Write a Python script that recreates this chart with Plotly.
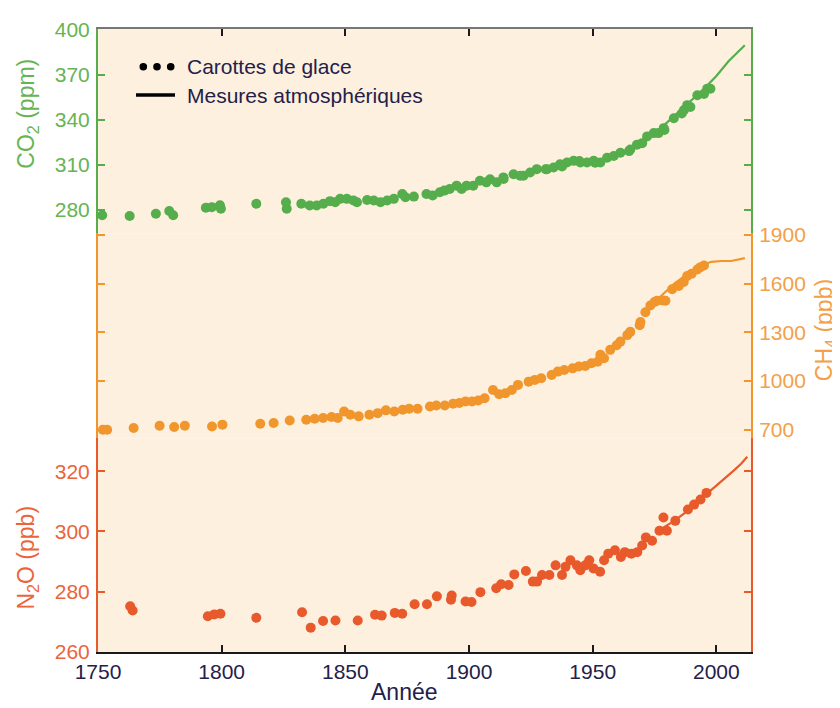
import plotly.graph_objects as go

# ---------------- data ----------------
x_ticks = [1750, 1800, 1850, 1900, 1950, 2000]
co2_ticks = [280, 310, 340, 370, 400]
ch4_ticks = [700, 1000, 1300, 1600, 1900]
n2o_ticks = [260, 280, 300, 320]

co2_ice_year = [1751.7, 1762.8, 1773.4, 1778.8, 1780.4, 1793.6, 1796.0, 1799.3, 1799.7,
                1814.0, 1826.0, 1826.3, 1832.2, 1835.6, 1838.4, 1841.1, 1843.8, 1845.9,
                1847.9, 1850.6, 1853.3, 1854.7, 1858.8, 1861.5, 1864.2, 1866.9, 1869.6,
                1873.0, 1874.3, 1877.7, 1882.8, 1885.3, 1888.2, 1892.2, 1895.0, 1899.0,
                1901.7, 1904.4, 1908.5, 1911.2, 1913.9, 1918.0, 1922.0, 1924.7, 1927.4,
                1931.5, 1934.2, 1936.8, 1939.6, 1942.3, 1945.0, 1947.7, 1950.4, 1953.1,
                1955.8, 1958.5, 1961.2, 1965.2, 1967.9, 1972.0, 1974.7, 1978.7, 1982.8,
                1986.9, 1988.2, 1992.3, 1996.3,
                1890.0, 1897.0, 1907.0, 1914.0, 1920.7, 1931.0, 1937.6, 1944.6, 1951.0,
                1964.7, 1970.0, 1976.6, 1979.0, 1986.0, 1989.5, 1995.0, 1997.6]
co2_ice = [276.3, 275.8, 277.3, 279.1, 276.3, 281.3, 281.7, 282.9, 280.6,
           283.9, 285.0, 280.6, 283.9, 282.8, 282.8, 283.9, 285.7, 285.0,
           287.2, 287.2, 286.1, 285.0, 286.5, 286.1, 285.0, 286.1, 287.2,
           290.5, 288.3, 288.7, 290.5, 289.4, 291.6, 293.8, 296.0, 296.0,
           296.0, 299.3, 300.3, 298.2, 301.5, 303.6, 302.6, 304.8, 307.0,
           307.0, 308.1, 310.2, 311.4, 312.5, 311.4, 311.4, 312.5, 311.4,
           314.6, 315.7, 317.9, 320.1, 323.3, 328.8, 331.0, 334.3, 340.9,
           346.3, 349.6, 356.2, 360.6,
           292.7, 293.8, 298.2, 300.4, 302.6, 306.9, 308.7, 312.4, 311.3,
           319.0, 324.3, 331.0, 333.0, 344.0, 348.4, 357.0, 360.5]
co2_atm_year = [1958, 1962, 1966, 1970, 1975, 1980, 1985, 1990, 1995, 2000, 2005, 2011.5]
co2_atm = [315.5, 318.0, 321.0, 325.5, 331.0, 338.0, 345.5, 353.5, 360.5, 369.0, 379.0, 389.5]

ch4_ice_year = [1752.0, 1753.7, 1764.4, 1774.9, 1780.8, 1785.1, 1796.1, 1800.3, 1815.6,
                1821.0, 1827.5, 1834.2, 1837.6, 1841.0, 1844.4, 1846.9, 1849.5, 1852.0,
                1855.4, 1859.7, 1863.1, 1866.4, 1869.8, 1873.2, 1875.8, 1879.2, 1884.2,
                1886.8, 1890.2, 1893.6, 1896.1, 1898.6, 1901.2, 1903.7, 1906.3, 1909.7,
                1912.2, 1914.7, 1917.3, 1919.8, 1924.1, 1926.6, 1929.2, 1933.4, 1935.9,
                1938.5, 1941.9, 1944.4, 1947.0, 1949.5, 1952.0, 1953.1, 1957.1, 1961.2,
                1965.2, 1969.3, 1971.3, 1973.3, 1976.0, 1979.4, 1982.1, 1984.8, 1988.2,
                1992.3, 1995.0,
                1954.6, 1959.7, 1964.0, 1969.0, 1975.0, 1978.3, 1986.8, 1990.0, 1993.6]
ch4_ice = [700, 700, 710, 724, 716, 724, 720, 731, 737,
           741, 757, 761, 767, 772, 778, 772, 812, 792,
           782, 792, 802, 819, 812, 823, 829, 829, 843,
           849, 849, 860, 864, 874, 874, 880, 894, 945,
           919, 925, 945, 976, 996, 1007, 1017, 1037, 1058,
           1068, 1078, 1089, 1093, 1109, 1119, 1162, 1192, 1243,
           1303, 1364, 1424, 1465, 1495, 1495, 1566, 1586, 1647,
           1688, 1712,
           1140, 1221, 1283, 1344, 1487, 1497, 1610, 1661, 1702]
ch4_atm_year = [1977, 1980, 1983, 1986, 1989, 1992, 1995, 1998, 2002, 2006, 2011.5]
ch4_atm = [1515, 1560, 1600, 1635, 1670, 1700, 1720, 1735, 1740, 1740, 1758]

n2o_ice_year = [1763.0, 1764.0, 1794.4, 1797.0, 1799.5, 1814.0, 1832.5, 1836.0, 1841.0,
                1846.0, 1855.0, 1862.0, 1864.7, 1870.0, 1873.0, 1878.0, 1883.0, 1887.0,
                1893.0, 1892.7, 1898.6, 1901.0, 1904.6, 1911.0, 1913.0, 1916.0, 1918.3,
                1923.0, 1925.8, 1927.5, 1929.5, 1932.5, 1935.0, 1937.6, 1939.0, 1941.0,
                1943.6, 1945.0, 1947.0, 1948.6, 1950.3, 1953.0, 1954.6, 1956.3, 1959.0,
                1961.4, 1963.0, 1965.6, 1968.0, 1970.0, 1971.5, 1974.0, 1977.0, 1978.6,
                1980.0, 1983.4, 1988.5, 1991.0, 1993.6, 1996.0]
n2o_ice = [275.1, 273.7, 271.8, 272.4, 272.6, 271.3, 273.1, 268.0, 270.2,
           270.4, 270.4, 272.3, 272.0, 272.9, 272.6, 275.8, 275.8, 278.4,
           278.7, 277.3, 276.7, 276.5, 279.8, 281.1, 282.4, 282.2, 285.7,
           286.8, 283.3, 283.3, 285.5, 285.5, 288.7, 285.5, 288.2, 290.4,
           288.7, 287.1, 288.7, 290.4, 287.7, 286.6, 290.4, 292.6, 293.7,
           291.5, 293.1, 292.6, 293.1, 295.3, 298.0, 296.9, 300.2, 304.6,
           300.2, 303.5, 307.3, 308.9, 310.6, 312.8]
n2o_atm_year = [1978, 1983, 1987, 1991, 1995, 1999, 2003, 2007, 2010, 2012.5]
n2o_atm = [301.0, 303.5, 306.0, 308.8, 311.5, 314.5, 317.2, 320.2, 322.5, 324.8]

legend_labels = ["Carottes de glace", "Mesures atmosphériques"]

# ---------------- styling ----------------
GREEN = "#55ad4c"
ORANGE = "#f0962c"
RED = "#e85a2b"
GREEN_T = "#66b453"
ORANGE_T = "#f3a048"
RED_T = "#ea643c"
DARK = "#24204a"
BG = "#fdf0de"
FONT = "Liberation Sans, Arial, sans-serif"

# the page body adds an 8px offset, so the figure is 8px smaller and
# every screen position below is given in window pixels minus 8
OFF = 8
W, H = 840 - OFF, 708 - OFF
ML, MR, MT, MB = 98 - OFF, 89, 19 - OFF, 56
PW, PH = W - ML - MR, H - MT - MB


def px(xs):
    return (xs - OFF - ML) / PW


def py(ys):
    return (H - MB - (ys - OFF)) / PH


d_top = py(226.7)
d_mid = py(435)

fig = go.Figure()
mk = dict(size=10, line=dict(width=0))
fig.add_trace(go.Scatter(x=co2_ice_year, y=co2_ice, mode="markers",
                         marker=dict(color=GREEN, **mk), xaxis="x", yaxis="y"))
fig.add_trace(go.Scatter(x=co2_atm_year, y=co2_atm, mode="lines",
                         line=dict(color=GREEN, width=2.2), xaxis="x2", yaxis="y"))
fig.add_trace(go.Scatter(x=ch4_ice_year, y=ch4_ice, mode="markers",
                         marker=dict(color=ORANGE, **mk), xaxis="x", yaxis="y2"))
fig.add_trace(go.Scatter(x=ch4_atm_year, y=ch4_atm, mode="lines",
                         line=dict(color=ORANGE, width=2.2), xaxis="x", yaxis="y2"))
fig.add_trace(go.Scatter(x=n2o_ice_year, y=n2o_ice, mode="markers",
                         marker=dict(color=RED, **mk), xaxis="x", yaxis="y3"))
fig.add_trace(go.Scatter(x=n2o_atm_year, y=n2o_atm, mode="lines",
                         line=dict(color=RED, width=2.2), xaxis="x", yaxis="y3"))

xr = [1750, 2014]
common_y = dict(showgrid=False, zeroline=False, showline=True, linewidth=2,
                ticks="inside", ticklen=7, tickwidth=2, mirror="ticks",
                anchor="x", ticklabelstandoff=2)

fig.update_layout(
    width=W, height=H,
    margin=dict(l=ML, r=MR, t=MT, b=MB),
    paper_bgcolor="white", plot_bgcolor=BG,
    showlegend=False,
    font=dict(family=FONT, size=21, color=DARK),
    xaxis=dict(range=xr, tickvals=x_ticks, showgrid=False, zeroline=False,
               showline=True, linecolor="#1a1a1a", linewidth=2,
               ticks="inside", ticklen=7, tickwidth=2, tickcolor="#1a1a1a",
               tickfont=dict(family=FONT, size=21, color=DARK),
               anchor="y3", domain=[0, 1]),
    xaxis2=dict(range=xr, tickvals=x_ticks, showgrid=False, zeroline=False,
                showline=True, linecolor="#777777", linewidth=2,
                ticks="inside", ticklen=7, tickwidth=2, tickcolor="#1a1a1a",
                showticklabels=False, overlaying="x", anchor="y", side="top"),
    yaxis=dict(domain=[d_top, 1], range=[264.2, 400.3], tickvals=co2_ticks,
               side="left", linecolor=GREEN, tickcolor=GREEN,
               tickfont=dict(family=FONT, size=21, color=GREEN_T), **common_y),
    yaxis2=dict(domain=[d_mid, d_top], range=[646, 1910], tickvals=ch4_ticks,
                side="right", linecolor=ORANGE, tickcolor=ORANGE,
                tickfont=dict(family=FONT, size=21, color=ORANGE_T), **common_y),
    yaxis3=dict(domain=[0, d_mid], range=[259.9, 330.9], tickvals=n2o_ticks,
                side="left", linecolor=RED, tickcolor=RED,
                tickfont=dict(family=FONT, size=21, color=RED_T), **common_y),
)

# legend drawn as shapes + text
shapes = []
r = 3.8
for cx in [143.3, 157.0, 170.7]:
    shapes.append(dict(type="circle", xref="paper", yref="paper",
                       x0=px(cx - r), x1=px(cx + r), y0=py(57.3 + r), y1=py(57.3 - r),
                       fillcolor="black", line=dict(width=0)))
shapes.append(dict(type="line", xref="paper", yref="paper",
                   x0=px(136), x1=px(175), y0=py(86), y1=py(86),
                   line=dict(color="black", width=3.5)))
fig.update_layout(shapes=shapes)

ann = []
for txt, yy in zip(legend_labels, [57.5, 86.8]):
    ann.append(dict(text=txt, xref="paper", yref="paper", x=px(185), y=py(yy),
                    xanchor="left", yanchor="middle", showarrow=False,
                    font=dict(family=FONT, size=21, color=DARK)))
ann.append(dict(text="CO<sub>2</sub> (ppm)", xref="paper", yref="paper",
                x=px(28), y=py(105), textangle=-90, showarrow=False,
                xanchor="center", yanchor="middle",
                font=dict(family=FONT, size=23, color=GREEN_T)))
ann.append(dict(text="CH<sub>4</sub> (ppb)", xref="paper", yref="paper",
                x=px(825), y=py(325), textangle=-90, showarrow=False,
                xanchor="center", yanchor="middle",
                font=dict(family=FONT, size=23, color=ORANGE_T)))
ann.append(dict(text="N<sub>2</sub>O (ppb)", xref="paper", yref="paper",
                x=px(28), y=py(556), textangle=-90, showarrow=False,
                xanchor="center", yanchor="middle",
                font=dict(family=FONT, size=23, color=RED_T)))
ann.append(dict(text="Année", xref="paper", yref="paper",
                x=px(404), y=py(693), showarrow=False,
                xanchor="center", yanchor="middle",
                font=dict(family=FONT, size=23, color=DARK)))
fig.update_layout(annotations=ann)

fig.write_html("out.html")
